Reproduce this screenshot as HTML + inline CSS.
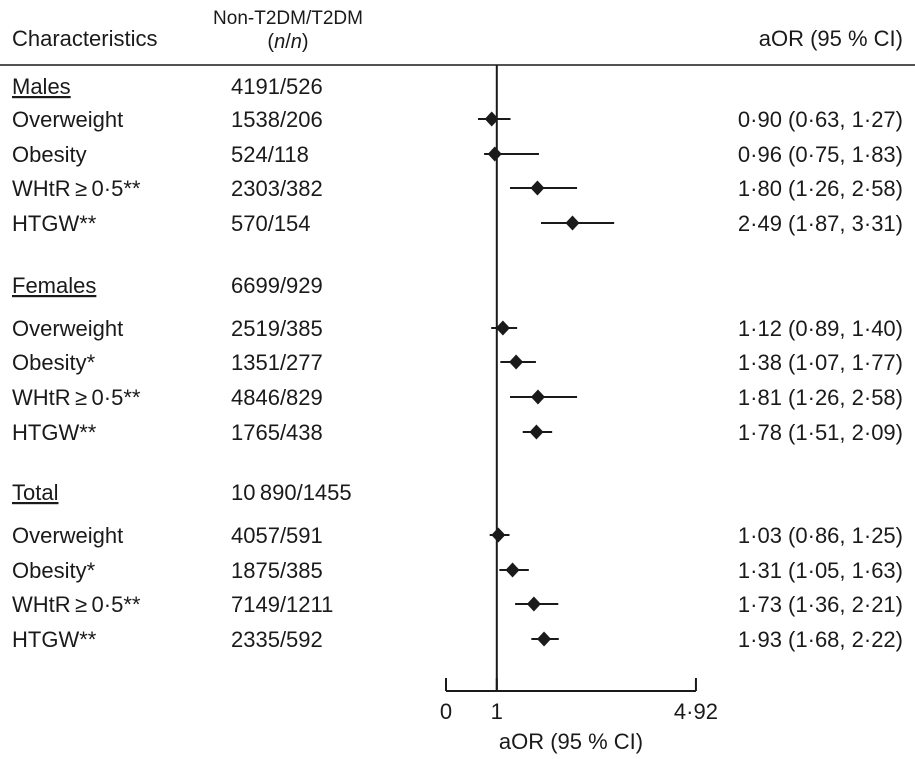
<!DOCTYPE html>
<html><head><meta charset="utf-8"><style>
body{margin:0;background:#fff}
svg text{font-family:"Liberation Sans",Arial,sans-serif;font-size:22px;fill:#1a1a1a}
</style></head><body>
<svg width="915" height="754" viewBox="0 0 915 754">
<text x="12" y="46">Characteristics</text>
<text x="288" y="24" text-anchor="middle" style="font-size:19px">Non-T2DM/T2DM</text>
<text x="288" y="48" text-anchor="middle" style="font-size:20px">(<tspan font-style="italic">n</tspan>/<tspan font-style="italic">n</tspan>)</text>
<text x="903" y="46" text-anchor="end">aOR (95 % CI)</text>
<line x1="0" y1="65" x2="915" y2="65" stroke="#1a1a1a" stroke-width="1.5"/>
<g id="rows"></g>
<g id="marks"></g>
<g id="axis"></g>
<text x="571" y="749" text-anchor="middle">aOR (95 % CI)</text>
</svg>
<script>
const labels=["Males","Overweight","Obesity","WHtR\u2009\u2265\u20090·5**","HTGW**","Females","Overweight","Obesity*","WHtR\u2009\u2265\u20090·5**","HTGW**","Total","Overweight","Obesity*","WHtR\u2009\u2265\u20090·5**","HTGW**"];
const counts=["4191/526","1538/206","524/118","2303/382","570/154","6699/929","2519/385","1351/277","4846/829","1765/438","10\u2009890/1455","4057/591","1875/385","7149/1211","2335/592"];
const aor=[null,0.90,0.96,1.80,2.49,null,1.12,1.38,1.81,1.78,null,1.03,1.31,1.73,1.93];
const lo=[null,0.63,0.75,1.26,1.87,null,0.89,1.07,1.26,1.51,null,0.86,1.05,1.36,1.68];
const hi=[null,1.27,1.83,2.58,3.31,null,1.40,1.77,2.58,2.09,null,1.25,1.63,2.21,2.22];
const rowY=[86,119,154,188,223,285,328,362,397,432,492,535,570,604,639];
const ticks=[0,1,4.92];
const NS="http://www.w3.org/2000/svg";
function x(v){return 446+v*50.8;}
function fmt(v){return v.toFixed(2).replace('.','·');}
function mk(t,a,p){const e=document.createElementNS(NS,t);for(const k in a)e.setAttribute(k,a[k]);(p).appendChild(e);return e;}
const rows=document.getElementById('rows'),marks=document.getElementById('marks'),axis=document.getElementById('axis');
labels.forEach((l,i)=>{
  const y=rowY[i]+8;
  const t=mk('text',{x:12,y:y},rows);t.textContent=l;
  
  
  if(aor[i]===null){t.setAttribute('text-decoration','underline');}
  const c=mk('text',{x:231,y:y},rows);c.textContent=counts[i];
  
  
  if(aor[i]!==null){
    const r=mk('text',{x:903,y:y,'text-anchor':'end'},rows);
    r.textContent=fmt(aor[i])+' ('+fmt(lo[i])+', '+fmt(hi[i])+')';
    
    
    const ln=mk('line',{x1:x(lo[i]),x2:x(hi[i]),y1:rowY[i],y2:rowY[i],stroke:'#1a1a1a','stroke-width':2},marks);
    
    
    const cx=x(aor[i]),cy=rowY[i];
    const d=mk('polygon',{points:`${cx},${cy-7.5} ${cx+7},${cy} ${cx},${cy+7.5} ${cx-7},${cy}`,fill:'#1a1a1a'},marks);
    
    
  }
});
const ref=mk('line',{x1:x(1),x2:x(1),y1:65,y2:691,stroke:'#1a1a1a','stroke-width':2},axis);


const al=mk('line',{x1:x(0),x2:x(ticks[ticks.length-1]),y1:691,y2:691,stroke:'#1a1a1a','stroke-width':2},axis);


ticks.forEach(v=>{
  const tk=mk('line',{x1:x(v),x2:x(v),y1:678,y2:691,stroke:'#1a1a1a','stroke-width':2},axis);
  
  
  const tl=mk('text',{x:x(v),y:719,'text-anchor':'middle'},axis);
  tl.textContent=Number.isInteger(v)?String(v):String(v).replace('.','·');
  
  
});
</script>
</body></html>
